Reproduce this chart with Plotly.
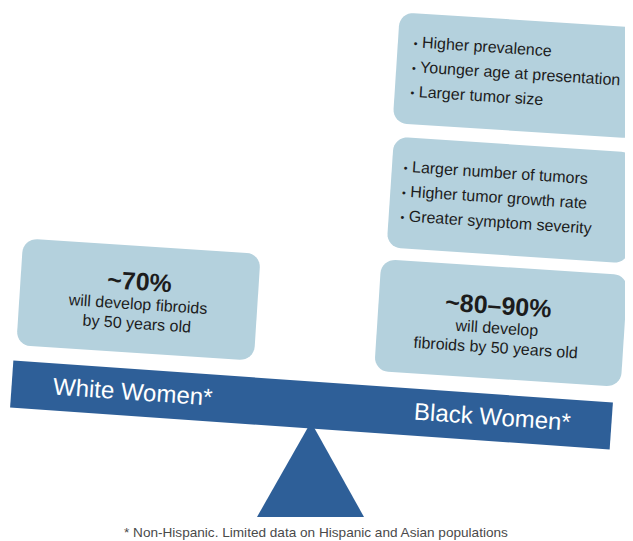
import math
import plotly.graph_objects as go

W, H = 633, 541
PAD = 8  # default page margin of the browser body

# ---- content ----
groups = ["White Women*", "Black Women*"]
prevalence = ["~70%", "~80–90%"]
prevalence_notes = [["will develop fibroids", "by 50 years old"],
                    ["will develop", "fibroids by 50 years old"]]
black_features_top = ["Higher prevalence", "Younger age at presentation", "Larger tumor size"]
black_features_mid = ["Larger number of tumors", "Higher tumor growth rate", "Greater symptom severity"]
footnote = "* Non-Hispanic. Limited data on Hispanic and Asian populations"

BOX = "#b4d1dd"
BEAM = "#2e5f98"
TXT = "#1c1c1c"
FONT = "Liberation Sans, Arial, Helvetica, sans-serif"


def rot(cx, cy, u, v, ang):
    a = math.radians(ang)
    return (cx + u * math.cos(a) - v * math.sin(a),
            cy + u * math.sin(a) + v * math.cos(a))


def rect_path(cx, cy, w, h, r, ang, n=8):
    pts = []
    if r <= 0:
        for u, v in [(-w / 2, -h / 2), (w / 2, -h / 2), (w / 2, h / 2), (-w / 2, h / 2)]:
            pts.append(rot(cx, cy, u, v, ang))
    else:
        corners = [(w / 2 - r, -h / 2 + r, -90, 0), (w / 2 - r, h / 2 - r, 0, 90),
                   (-w / 2 + r, h / 2 - r, 90, 180), (-w / 2 + r, -h / 2 + r, 180, 270)]
        for ux, vy, a0, a1 in corners:
            for k in range(n + 1):
                t = math.radians(a0 + (a1 - a0) * k / n)
                pts.append(rot(cx, cy, ux + r * math.cos(t), vy + r * math.sin(t), ang))
    return "M " + " L ".join(f"{x:.2f},{y:.2f}" for x, y in pts) + " Z"


shapes = []
annotations = []

# fulcrum
shapes.append(dict(type="path", path="M 311,422 L 364,517 L 257,517 Z",
                   fillcolor=BEAM, line=dict(width=0), xref="x", yref="y"))
# beam
BEAM_C = (311.5, 405.0)
BEAM_ANG = 4.0
shapes.append(dict(type="path", path=rect_path(BEAM_C[0], BEAM_C[1], 601, 47, 0, BEAM_ANG),
                   fillcolor=BEAM, line=dict(width=0), xref="x", yref="y"))

# boxes: (cx, cy, w, h, angle)
boxes = [
    (138.5, 299.5, 238, 107, 3.7),   # white women prevalence
    (501.0, 323.0, 247, 112, 3.7),   # black women prevalence
    (511.0, 200.0, 242, 111, 3.8),   # features mid
    (518.0, 75.5, 244, 111, 3.7),    # features top
]
for cx, cy, w, h, a in boxes:
    shapes.append(dict(type="path", path=rect_path(cx, cy, w, h, 14, a),
                       fillcolor=BOX, line=dict(width=0), xref="x", yref="y"))


def prev_text(head, notes):
    s = f"<span style='font-size:25px'><b>{head}</b></span>"
    for n in notes:
        s += f"<br><span style='font-size:16px'>{n}</span>"
    return s


def bullet_text(items):
    return "<br>".join(
        f"<span style='font-size:11px'>•</span><span style='font-size:16px'> {it}</span>"
        for it in items)


annotations.append(dict(x=137.5, y=299, text=prev_text(prevalence[0], prevalence_notes[0]),
                        textangle=3.7, showarrow=False, align="center",
                        font=dict(family=FONT, size=15, color=TXT)))
annotations.append(dict(x=497, y=323, text=prev_text(prevalence[1], prevalence_notes[1]),
                        textangle=3.7, showarrow=False, align="center",
                        font=dict(family=FONT, size=15, color=TXT)))
annotations.append(dict(x=497, y=197, text=bullet_text(black_features_mid),
                        textangle=3.8, showarrow=False, align="left",
                        font=dict(family=FONT, size=19, color=TXT)))
annotations.append(dict(x=516, y=73, text=bullet_text(black_features_top),
                        textangle=3.7, showarrow=False, align="left",
                        font=dict(family=FONT, size=19, color=TXT)))

for g, u in zip(groups, [-179, 181]):
    x, y = rot(BEAM_C[0], BEAM_C[1], u, -1, BEAM_ANG)
    annotations.append(dict(x=x, y=y, text=g, textangle=BEAM_ANG, showarrow=False,
                            font=dict(family=FONT, size=24, color="white")))

annotations.append(dict(x=316, y=532, text=footnote, showarrow=False,
                        font=dict(family=FONT, size=13.6, color="#4a4a4a")))

for an in annotations:
    an.update(xref="x", yref="y")

fig = go.Figure()
fig.update_layout(
    width=W - PAD, height=H - PAD,
    margin=dict(l=0, r=0, t=0, b=0),
    paper_bgcolor="white", plot_bgcolor="white",
    xaxis=dict(range=[PAD, W], visible=False, fixedrange=True),
    yaxis=dict(range=[H, PAD], visible=False, fixedrange=True),
    shapes=shapes, annotations=annotations,
    showlegend=False,
)
fig.write_html("out.html")
